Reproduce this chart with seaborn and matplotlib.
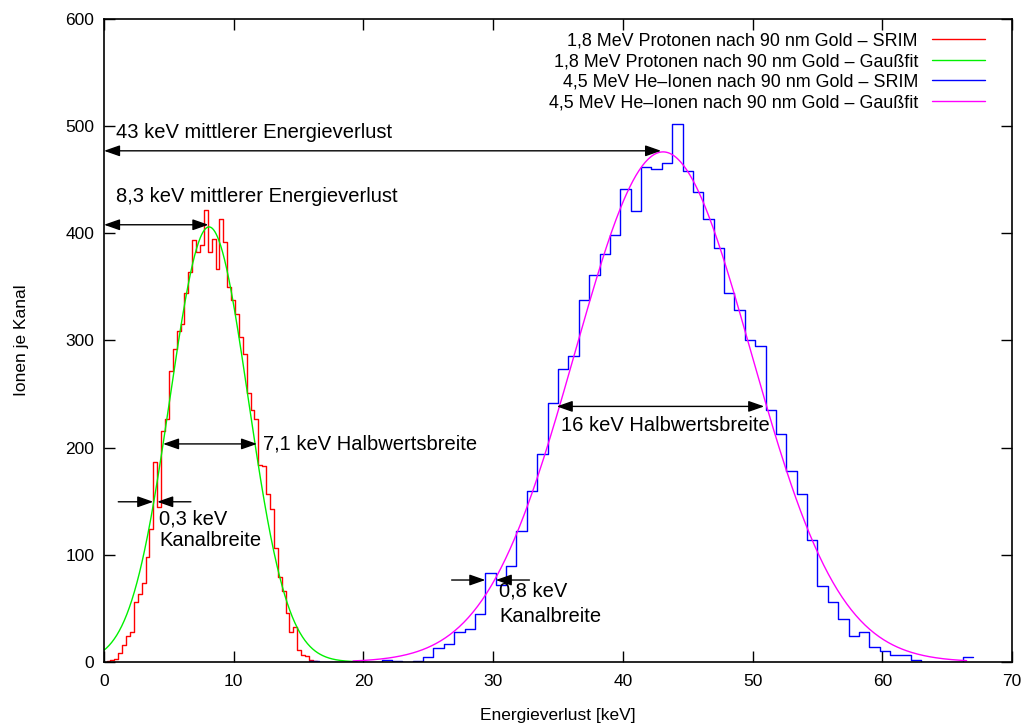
import numpy as np
import pandas as pd
import matplotlib
matplotlib.use("Agg")
import matplotlib.pyplot as plt
import seaborn as sns
from matplotlib.lines import Line2D

# ---------------- data ----------------
# 1,8 MeV protons, SRIM histogram (channel width 0.3 keV, first edge 0.2 keV)
proton_first_edge = 0.2
proton_channel = 0.3
proton_counts = [1, 2, 3, 8, 16, 24, 28, 56, 63, 74, 98, 124, 187, 145,
                 216, 227, 272, 292, 309, 315, 344, 364, 394, 383, 389, 422,
                 383, 395, 367, 413, 392, 350, 338, 325, 303, 287, 251, 235,
                 227, 184, 183, 157, 143, 106, 79, 66, 46, 28, 33, 11, 6.5,
                 5.6, 2, 1]

# 4,5 MeV He ions, SRIM histogram (channel width 0.8 keV, first edge 15.8 keV)
he_first_edge = 15.8
he_channel = 0.8
he_counts = [1, 0, 0, 0, 0, 0, 0, 2, 1, 0, 1, 4.5, 12.7, 16.5, 28, 31, 45,
             83, 72, 90, 122, 160, 194, 242, 273, 286, 338, 361, 381, 398,
             441, 421, 462, 460, 466, 502, 458, 439, 413, 386, 344, 328, 300,
             295, 235, 213, 178, 157, 114, 71, 56, 40, 24, 28, 14, 10, 6.5,
             6.5, 2, 0, 0, 0, 0, 4.5]

# Gauss fit parameters (amplitude, mean, FWHM) and plotted range
proton_fit_amp, proton_fit_mu, proton_fit_fwhm = 406, 8.1, 7.1
proton_fit_range = (0.0, 19.5)
he_fit_amp, he_fit_mu, he_fit_fwhm = 476, 43.1, 16.0
he_fit_range = (19.2, 66.5)

legend_labels = ["1,8 MeV Protonen nach 90 nm Gold \u2013 SRIM",
                 "1,8 MeV Protonen nach 90 nm Gold \u2013 Gau\u00dffit",
                 "4,5 MeV He\u2013Ionen nach 90 nm Gold \u2013 SRIM",
                 "4,5 MeV He\u2013Ionen nach 90 nm Gold \u2013 Gau\u00dffit"]
x_ticks = [0, 10, 20, 30, 40, 50, 60, 70]
y_ticks = [0, 100, 200, 300, 400, 500, 600]

# ---------------- style ----------------
sns.set_style("ticks")
plt.rcParams['font.family'] = ['Liberation Sans', 'DejaVu Sans']
plt.rcParams['text.color'] = 'black'
plt.rcParams['axes.labelcolor'] = 'black'
FS = 12.5        # ticks, axis labels
FS_LEG = 12.9    # legend
FS_ANN = 14.5    # annotations
RED, GREEN, BLUE, MAGENTA = "#ff0000", "#00f000", "#0000ff", "#ff00ff"

fig = plt.figure(figsize=(10.25, 7.27), dpi=100)
ax = fig.add_axes([104/1025, 1-662/727, (1012-104)/1025, (662-19)/727])


def hist_df(first, width, counts):
    n = len(counts)
    centers = first + width*(np.arange(n) + 0.5)
    return pd.DataFrame({"x": centers, "w": counts}), (first, first + width*n)


def gauss_df(amp, mu, fwhm, rng):
    sig = fwhm/(2*np.sqrt(2*np.log(2)))
    xs = np.linspace(rng[0], rng[1], 400)
    return pd.DataFrame({"x": xs, "y": amp*np.exp(-(xs-mu)**2/(2*sig**2))})


pdf, prange = hist_df(proton_first_edge, proton_channel, proton_counts)
hdf, hrange = hist_df(he_first_edge, he_channel, he_counts)

sns.histplot(data=pdf, x="x", weights="w", binwidth=proton_channel,
             binrange=prange, element="step", fill=False, color=RED,
             linewidth=1.0, ax=ax)
sns.lineplot(data=gauss_df(proton_fit_amp, proton_fit_mu, proton_fit_fwhm,
                           proton_fit_range), x="x", y="y", color=GREEN,
             linewidth=1.0, ax=ax)
sns.histplot(data=hdf, x="x", weights="w", binwidth=he_channel,
             binrange=hrange, element="step", fill=False, color=BLUE,
             linewidth=1.0, ax=ax)
sns.lineplot(data=gauss_df(he_fit_amp, he_fit_mu, he_fit_fwhm, he_fit_range),
             x="x", y="y", color=MAGENTA, linewidth=1.0, ax=ax)

ax.set_xlim(0, 70)
ax.set_ylim(0, 600)
ax.set_xticks(x_ticks)
ax.set_yticks(y_ticks)
ax.tick_params(direction="in", length=8, width=1, top=True, right=True,
               labelsize=FS, colors="black")
ax.tick_params(axis="x", pad=9)
ax.tick_params(axis="y", pad=7)
for s in ax.spines.values():
    s.set_linewidth(1.2)
    s.set_color("black")
ax.set_xlabel("Energieverlust [keV]", fontsize=FS, labelpad=13, color="black")
ax.set_ylabel("Ionen je Kanal", fontsize=FS, labelpad=26, color="black")

handles = [Line2D([], [], color=c, lw=1.0) for c in (RED, GREEN, BLUE, MAGENTA)]
leg = ax.legend(handles, legend_labels, loc="upper right", frameon=False,
                markerfirst=False, fontsize=FS_LEG, handlelength=2.96,
                handletextpad=0.78, labelspacing=0.2, borderaxespad=0.35,
                bbox_to_anchor=(0.985, 1.0))
for t in leg.get_texts():
    t.set_color("black")

# ---------------- annotations ----------------
def arrow(x0, y0, x1, y1, style):
    ax.annotate("", xy=(x1, y1), xytext=(x0, y0),
                arrowprops=dict(arrowstyle=style + ",head_length=0.8,head_width=0.28",
                                color="black", lw=1.0, shrinkA=0, shrinkB=0,
                                mutation_scale=12))

def note(x, y, s):
    ax.text(x, y, s, fontsize=FS_ANN, va="center", color="black")

arrow(0, 477, 42.95, 477, "<|-|>")
note(0.95, 494, "43 keV mittlerer Energieverlust")
arrow(0, 408, 8.05, 408, "<|-|>")
note(0.95, 434, "8,3 keV mittlerer Energieverlust")
arrow(4.55, 203.5, 11.8, 203.5, "<|-|>")
note(12.25, 203.5, "7,1 keV Halbwertsbreite")
arrow(34.9, 238.5, 50.9, 238.5, "<|-|>")
note(35.2, 221, "16 keV Halbwertsbreite")

arrow(1.1, 149.5, 3.8, 149.5, "-|>")
arrow(6.7, 149.5, 4.1, 149.5, "-|>")
note(4.25, 133, "0,3 keV")
note(4.25, 113, "Kanalbreite")

arrow(26.8, 76.5, 29.4, 76.5, "-|>")
arrow(32.8, 76.5, 30.2, 76.5, "-|>")
note(30.45, 66, "0,8 keV")
note(30.45, 42, "Kanalbreite")

fig.savefig("out.png", dpi=100)
